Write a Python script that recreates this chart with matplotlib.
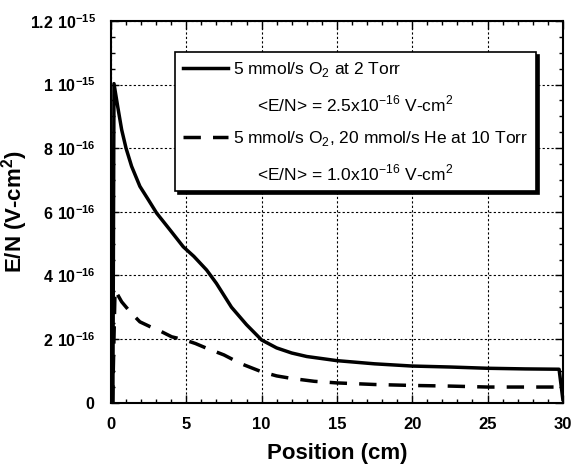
import matplotlib
matplotlib.use("Agg")
import matplotlib.pyplot as plt
from matplotlib.lines import Line2D
from matplotlib.ticker import MultipleLocator

plt.rcParams['font.family'] = ['Liberation Sans', 'DejaVu Sans']
plt.rcParams['mathtext.fontset'] = 'custom'
plt.rcParams['mathtext.rm'] = 'Liberation Sans'
plt.rcParams['mathtext.bf'] = 'Liberation Sans:bold'

# solid: 5 mmol/s O2 at 2 Torr  (units of 1e-16 V-cm2)
x_o2 = [0.12, 0.13, 0.2, 0.45, 0.71, 1.0, 1.37, 1.92, 2.48, 3.03, 3.92, 4.8, 5.5, 6.35, 7.0,
        8.0, 9.0, 10.0, 11.0, 12.0, 13.0, 15.0, 17.5, 20.0, 22.5, 25.0, 27.5, 29.75, 30.0]
y_o2 = [0, 0.5, 10.03, 9.3, 8.58, 8.0, 7.43, 6.8, 6.38, 5.96, 5.43, 4.9, 4.6, 4.17, 3.75,
        3.0, 2.45, 1.97, 1.72, 1.56, 1.45, 1.32, 1.22, 1.15, 1.12, 1.08, 1.06, 1.05, 0.1]

# dashed: 5 mmol/s O2, 20 mmol/s He at 10 Torr
x_he = [0.12, 0.13, 0.27, 0.71, 1.26, 1.92, 2.59, 3.36, 4.03, 4.9, 5.6, 6.35, 7.5, 8.6, 10.0,
        11.0, 12.0, 13.5, 15.0, 17.5, 20.0, 22.5, 25.0, 27.5, 29.4]
y_he = [0, 0.5, 3.54, 3.17, 2.86, 2.54, 2.39, 2.23, 2.07, 1.97, 1.86, 1.71, 1.5, 1.23, 0.97,
        0.84, 0.76, 0.67, 0.62, 0.57, 0.54, 0.52, 0.49, 0.49, 0.49]

yticks = [0, 2e-16, 4e-16, 6e-16, 8e-16, 1e-15, 1.2e-15]
ylabels = [r'$\mathbf{0}$', r'$\mathbf{2\ 10^{-16}}$', r'$\mathbf{4\ 10^{-16}}$',
           r'$\mathbf{6\ 10^{-16}}$', r'$\mathbf{8\ 10^{-16}}$', r'$\mathbf{1\ 10^{-15}}$',
           r'$\mathbf{1.2\ 10^{-15}}$']

fig = plt.figure(figsize=(5.72, 4.66), dpi=100)
ax = fig.add_axes([0.194, 0.136, 0.79, 0.819])

ax.plot(x_o2, [v * 1e-16 for v in y_o2], color='black', lw=2.5)
ax.plot(x_he, [v * 1e-16 for v in y_he], color='black', lw=2.5, dashes=(5, 3.5))

ax.set_xlim(0, 30)
ax.set_ylim(0, 1.2e-15)
ax.set_xticks([0, 5, 10, 15, 20, 25, 30])
ax.xaxis.set_minor_locator(MultipleLocator(1))
ax.set_yticks(yticks)
ax.set_yticklabels(ylabels, fontsize=11.5)
ax.yaxis.set_minor_locator(MultipleLocator(0.5e-16))
ax.tick_params(which='both', direction='in', top=True, right=True)
ax.tick_params(axis='x', labelsize=12)
ax.tick_params(which='major', length=6, width=1)
ax.tick_params(axis='x', which='major', pad=10)
ax.tick_params(axis='y', which='major', pad=11)
ax.tick_params(which='minor', length=3, width=1)
for lab in ax.get_xticklabels():
    lab.set_fontweight('bold')
ax.grid(True, which='major', linestyle=(0, (2, 2)), color='black', lw=0.8)
for s in ax.spines.values():
    s.set_linewidth(1.5)

ax.set_xlabel('Position (cm)', fontsize=16, fontweight='bold', labelpad=8)
ax.set_ylabel(r'E/N (V-cm$^{\mathbf{2}}$)', fontsize=16, fontweight='bold', labelpad=0)

handles = [Line2D([], [], color='black', lw=2.5),
           Line2D([], [], color='none'),
           Line2D([], [], color='black', lw=2.5, dashes=(5, 3.5)),
           Line2D([], [], color='none')]
labels = [r'5 mmol/s O$_2$ at 2 Torr',
          r'     <E/N> = 2.5x10$^{-16}$ V-cm$^2$',
          r'5 mmol/s O$_2$, 20 mmol/s He at 10 Torr',
          r'     <E/N> = 1.0x10$^{-16}$ V-cm$^2$']
leg = ax.legend(handles, labels, loc='upper left', bbox_to_anchor=(0.1416, 0.919),
                borderaxespad=0, fontsize=12.5, frameon=True, fancybox=False,
                edgecolor='black', shadow={'color': 'black', 'alpha': 1, 'ox': 2, 'oy': -2},
                handlelength=2.6, labelspacing=0.85, borderpad=0.45, handletextpad=0.3)
leg.get_frame().set_linewidth(1.2)

fig.savefig('out.png', dpi=100)
